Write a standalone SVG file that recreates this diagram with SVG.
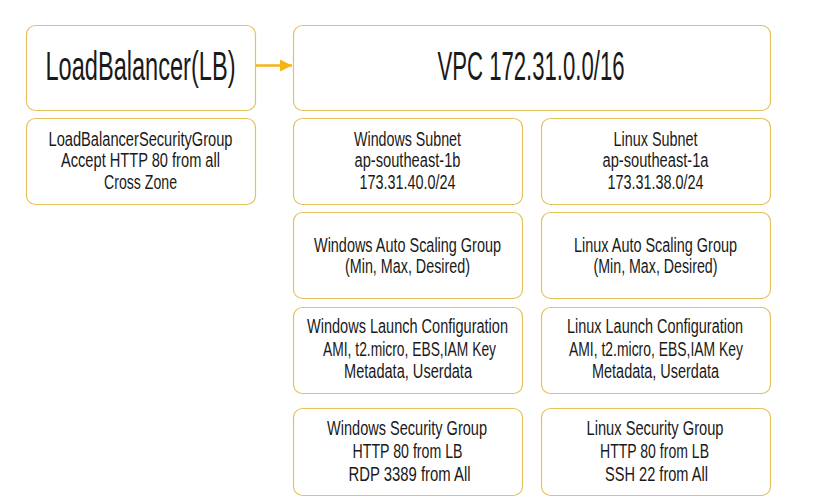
<svg xmlns="http://www.w3.org/2000/svg" width="826" height="501" viewBox="0 0 826 501">
<style>
.box{fill:#ffffff;stroke:#E3C25C;stroke-width:1.2}
text{font-family:"Liberation Sans",Arial,sans-serif;fill:#1a1a1a;text-anchor:middle}
.big{font-size:41px}
.sm{font-size:20px}
</style>
<defs>
<marker id="ah" viewBox="0 0 10 10" refX="10" refY="5" markerWidth="5" markerHeight="5" orient="auto" markerUnits="strokeWidth">
<path d="M0,0 L10,5 L0,10 z" fill="#F5B314"/>
</marker>
</defs>
<rect width="826" height="501" fill="#ffffff"/>
<g id="connectors">
<line x1="256" y1="65.5" x2="292" y2="65.5" stroke="#F5B314" stroke-width="2.5" marker-end="url(#ah)"/>
</g>
<g id="lb">
<rect class="box" x="26.5" y="25.5" width="229" height="85" rx="9"/>
<text class="big" x="140.5" y="80" textLength="190" lengthAdjust="spacingAndGlyphs">LoadBalancer(LB)</text>
</g>
<g id="vpc">
<rect class="box" x="293.5" y="25.5" width="477" height="85" rx="9"/>
<text class="big" x="531" y="80" textLength="187" lengthAdjust="spacingAndGlyphs">VPC 172.31.0.0/16</text>
</g>
<g id="lbsg">
<rect class="box" x="26.5" y="118.5" width="229" height="86" rx="9"/>
<text class="sm" x="140.5" y="146" textLength="184" lengthAdjust="spacingAndGlyphs">LoadBalancerSecurityGroup</text>
<text class="sm" x="140.5" y="167" textLength="159" lengthAdjust="spacingAndGlyphs">Accept HTTP 80 from all</text>
<text class="sm" x="140.5" y="189" textLength="73" lengthAdjust="spacingAndGlyphs">Cross Zone</text>
</g>
<g id="win-subnet">
<rect class="box" x="293.5" y="118.5" width="229" height="86" rx="9"/>
<text class="sm" x="407.5" y="146" textLength="107" lengthAdjust="spacingAndGlyphs">Windows Subnet</text>
<text class="sm" x="407.5" y="167" textLength="106" lengthAdjust="spacingAndGlyphs">ap-southeast-1b</text>
<text class="sm" x="407.5" y="189" textLength="96" lengthAdjust="spacingAndGlyphs">173.31.40.0/24</text>
</g>
<g id="linux-subnet">
<rect class="box" x="541.5" y="118.5" width="229" height="86" rx="9"/>
<text class="sm" x="655.5" y="146" textLength="84" lengthAdjust="spacingAndGlyphs">Linux Subnet</text>
<text class="sm" x="655.5" y="167" textLength="106" lengthAdjust="spacingAndGlyphs">ap-southeast-1a</text>
<text class="sm" x="655.5" y="189" textLength="96" lengthAdjust="spacingAndGlyphs">173.31.38.0/24</text>
</g>
<g id="win-asg">
<rect class="box" x="293.5" y="212.5" width="229" height="86" rx="9"/>
<text class="sm" x="407.5" y="252" textLength="187" lengthAdjust="spacingAndGlyphs">Windows Auto Scaling Group</text>
<text class="sm" x="407.5" y="273" textLength="125" lengthAdjust="spacingAndGlyphs">(Min, Max, Desired)</text>
</g>
<g id="linux-asg">
<rect class="box" x="541.5" y="212.5" width="229" height="86" rx="9"/>
<text class="sm" x="655.5" y="252" textLength="163" lengthAdjust="spacingAndGlyphs">Linux Auto Scaling Group</text>
<text class="sm" x="655.5" y="273" textLength="124" lengthAdjust="spacingAndGlyphs">(Min, Max, Desired)</text>
</g>
<g id="win-lc">
<rect class="box" x="293.5" y="307.5" width="229" height="86" rx="9"/>
<text class="sm" x="407.5" y="333" textLength="201" lengthAdjust="spacingAndGlyphs">Windows Launch Configuration</text>
<text class="sm" x="409.5" y="356" textLength="173" lengthAdjust="spacingAndGlyphs">AMI, t2.micro, EBS,IAM Key</text>
<text class="sm" x="408" y="378" textLength="128" lengthAdjust="spacingAndGlyphs">Metadata, Userdata</text>
</g>
<g id="linux-lc">
<rect class="box" x="541.5" y="307.5" width="229" height="86" rx="9"/>
<text class="sm" x="655" y="333" textLength="176" lengthAdjust="spacingAndGlyphs">Linux Launch Configuration</text>
<text class="sm" x="656" y="356" textLength="174" lengthAdjust="spacingAndGlyphs">AMI, t2.micro, EBS,IAM Key</text>
<text class="sm" x="655.5" y="378" textLength="127" lengthAdjust="spacingAndGlyphs">Metadata, Userdata</text>
</g>
<g id="win-sg">
<rect class="box" x="293.5" y="408.5" width="229" height="87" rx="9"/>
<text class="sm" x="407" y="435" textLength="160" lengthAdjust="spacingAndGlyphs">Windows Security Group</text>
<text class="sm" x="407.5" y="458" textLength="110" lengthAdjust="spacingAndGlyphs">HTTP 80 from LB</text>
<text class="sm" x="409.5" y="481" textLength="122" lengthAdjust="spacingAndGlyphs">RDP 3389 from All</text>
</g>
<g id="linux-sg">
<rect class="box" x="541.5" y="408.5" width="229" height="87" rx="9"/>
<text class="sm" x="655" y="435" textLength="137" lengthAdjust="spacingAndGlyphs">Linux Security Group</text>
<text class="sm" x="654.5" y="458" textLength="109" lengthAdjust="spacingAndGlyphs">HTTP 80 from LB</text>
<text class="sm" x="656.5" y="481" textLength="103" lengthAdjust="spacingAndGlyphs">SSH 22 from All</text>
</g>
</svg>
